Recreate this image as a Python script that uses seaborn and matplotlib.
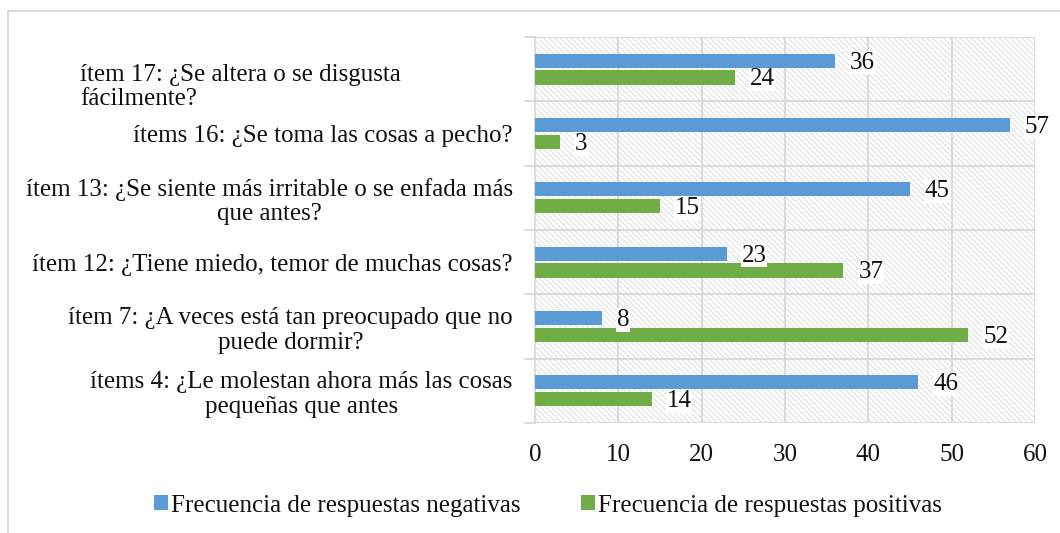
import pandas as pd
import matplotlib.pyplot as plt
import seaborn as sns
from matplotlib.patches import Rectangle
from matplotlib.transforms import ScaledTranslation

items = [
    "ítem 17: ¿Se altera o se disgusta\nfácilmente?",
    "ítems 16: ¿Se toma las cosas a pecho?",
    "ítem 13: ¿Se siente más irritable o se enfada más\nque antes?",
    "ítem 12: ¿Tiene miedo, temor de muchas cosas?",
    "ítem 7: ¿A veces está tan preocupado que no\npuede dormir?",
    "ítems 4: ¿Le molestan ahora más las cosas\npequeñas que antes",
]
negativas = [36, 57, 45, 23, 8, 46]
positivas = [24, 3, 15, 37, 52, 14]
series = ["Frecuencia de respuestas negativas", "Frecuencia de respuestas positivas"]
colors = ["#5B9BD5", "#70AD47"]
xticks = [0, 10, 20, 30, 40, 50, 60]

df = pd.DataFrame({
    "item": items * 2,
    "valor": negativas + positivas,
    "serie": [series[0]] * len(items) + [series[1]] * len(items),
})

sns.set_style("white")
plt.rcParams["font.family"] = ["Liberation Serif", "DejaVu Serif"]
plt.rcParams["hatch.linewidth"] = 0.7
plt.rcParams["hatch.color"] = "#dddddd"

fs = 18
fig = plt.figure(figsize=(10.6, 5.33), dpi=100)
ax = fig.add_axes([0.5047, 0.2064, 0.4717, 0.7242])

# patterned plot background
ax.add_patch(Rectangle((0, 0), 1, 1, transform=ax.transAxes, facecolor="white",
                       edgecolor="#dddddd", hatch="\\\\\\\\\\\\", linewidth=0, zorder=0))

sns.barplot(data=df, x="valor", y="item", hue="serie", orient="h",
            palette=colors, saturation=1, width=0.52, gap=0.16, ax=ax, zorder=3,
            edgecolor="none", linewidth=0)

for cont in ax.containers:
    for bar in cont:
        w = bar.get_width()
        yc = bar.get_y() + bar.get_height() / 2
        ax.text(w + 1.8, yc + 0.03, f"{int(w)}", va="center", ha="left",
                fontsize=fs, color="#111111", zorder=5,
                bbox=dict(facecolor="white", edgecolor="none", pad=0.5))

ax.set_xlim(0, 60)
ax.set_ylim(len(items) - 0.5, -0.5)
ax.set_xticks(xticks)
ax.set_xlabel("")
ax.set_ylabel("")

# gridlines: vertical at ticks, horizontal between categories
for x in xticks[1:]:
    ax.axvline(x, color="#d9d9d9", lw=1.3, zorder=1)
for y in [i - 0.5 for i in range(len(items) + 1)]:
    ax.axhline(y, color="#d9d9d9", lw=1.3, zorder=1)

for s in ax.spines.values():
    s.set_visible(False)
ax.spines["left"].set_visible(True)
ax.spines["left"].set_color("#d9d9d9")
ax.spines["left"].set_linewidth(1.3)

ax.set_yticks(range(len(items)))
ax.set_yticklabels(items, multialignment="center", linespacing=1.15)
ax.tick_params(axis="y", length=0, pad=16, labelsize=fs)
ax.tick_params(axis="x", length=0, pad=15, labelsize=fs)
for lab in ax.get_xticklabels() + ax.get_yticklabels():
    lab.set_color("#111111")

# first label is left aligned and sits further left (and a bit lower) in the original
first = ax.get_yticklabels()[0]
first.set_multialignment("left")
first.set_transform(first.get_transform() + ScaledTranslation(-1.12, -0.14, fig.dpi_scale_trans))

# small ticks on the left at category boundaries
for y in [i - 0.5 for i in range(len(items) + 1)]:
    ax.plot([-0.02, 0], [1 - (y + 0.5) / len(items)] * 2, transform=ax.transAxes,
            color="#d9d9d9", lw=1.3, clip_on=False)

handles, labels = ax.get_legend_handles_labels()
ax.legend(handles, labels, loc="upper center", bbox_to_anchor=(0.026, -0.127),
          ncol=2, frameon=False, fontsize=fs, handlelength=0.55, handleheight=0.55,
          handletextpad=0.15, columnspacing=2.4, labelcolor="#111111")

# outer chart border
fig.add_artist(Rectangle((0.0075, -0.01), 1.0, 0.99, transform=fig.transFigure,
                         facecolor="none", edgecolor="#d9d9d9", lw=1.3))

fig.savefig("out.png", dpi=100)
